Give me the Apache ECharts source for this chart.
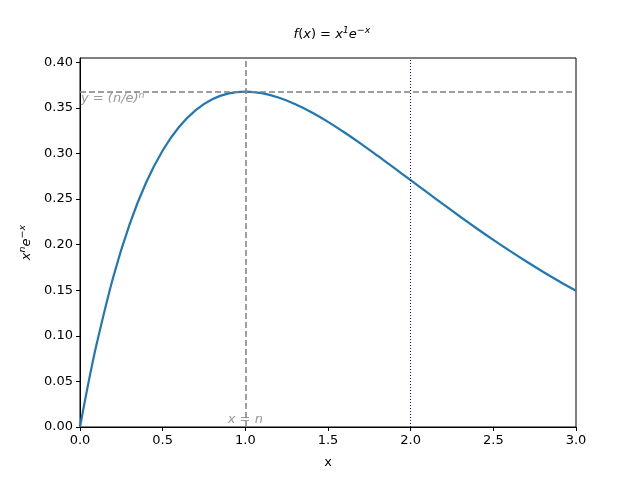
<!DOCTYPE html>
<html><head><meta charset="utf-8">
<script src="https://cdn.jsdelivr.net/npm/echarts@6/dist/echarts.min.js"></script>
<style>html,body{margin:0;padding:0;background:#fff}#c{width:640px;height:480px}</style>
</head><body><div id="c"></div>
<script>
const xs = [0,0.05,0.1,0.2,0.3,0.4,0.5,0.6,0.7,0.8,0.9,1.0,1.1,1.2,1.3,1.4,1.5,1.6,1.7,1.8,1.9,2.0,2.1,2.2,2.3,2.4,2.5,2.6,2.7,2.8,2.9,3.0];
const ys = [0,0.0476,0.0905,0.1637,0.2222,0.2681,0.3033,0.3293,0.3476,0.3595,0.3659,0.3679,0.3662,0.3614,0.3543,0.3452,0.3347,0.3230,0.3106,0.2975,0.2842,0.2707,0.2572,0.2438,0.2306,0.2177,0.2052,0.1931,0.1815,0.1703,0.1596,0.1494];
const peakX = 1.0;
const peakY = 0.3679;
const markX = 2.0;
const titleText = '{m|f}{u|(}{m|x}{u|) = }{m|x}{s|1}{m|e}{s|−x}';
const yName = '{m|x}{s|n}{m|e}{s|−x}';
const xName = 'x';
const hLabel = '{m|y = (n/e)}{s|n}';
const vLabel = 'x = n';

const chart = echarts.init(document.getElementById('c'));
const font = 'DejaVu Sans';
function rich(color, fs){
  fs = fs || 13;
  return {
    m:{fontFamily:font,fontStyle:'italic',fontSize:fs,lineHeight:15,verticalAlign:'bottom',color:color},
    u:{fontFamily:font,fontStyle:'normal',fontSize:fs,lineHeight:15,verticalAlign:'bottom',color:color},
    s:{fontFamily:font,fontStyle:'italic',fontSize:9.5,lineHeight:15,verticalAlign:'top',color:color}
  };
}
chart.setOption({
  animation:false,
  backgroundColor:'#fff',
  title:{text:titleText,left:327,top:21,textAlign:'center',textStyle:{fontFamily:font,fontStyle:'italic',fontWeight:'normal',fontSize:13,color:'#000',rich:rich('#000')}},
  grid:{left:80,right:64,top:58,bottom:53,show:true,borderColor:'#000',borderWidth:1,backgroundColor:'transparent'},
  xAxis:{type:'value',min:0,max:3,interval:0.5,
    name:xName,nameLocation:'middle',nameGap:29,nameTextStyle:{fontFamily:font,fontSize:13,color:'#000'},
    axisLine:{show:true,lineStyle:{color:'#000',width:1}},
    axisTick:{show:true,inside:false,length:4,lineStyle:{color:'#000'}},
    axisLabel:{fontFamily:font,fontSize:13,color:'#000',margin:7,formatter:v=>v.toFixed(1)},
    splitLine:{show:false}},
  yAxis:{type:'value',min:0,max:peakY*1.1,interval:0.05,
    name:yName,nameLocation:'middle',nameGap:47,nameRotate:90,nameTextStyle:{fontFamily:font,fontSize:13,color:'#000',rich:rich('#000')},
    axisLine:{show:true,lineStyle:{color:'#000',width:1}},
    axisTick:{show:true,inside:false,length:4,lineStyle:{color:'#000'}},
    axisLabel:{fontFamily:font,fontSize:13,color:'#000',margin:7,showMaxLabel:false,formatter:v=>v.toFixed(2)},
    splitLine:{show:false}},
  series:[
    {type:'line',data:xs.map((x,i)=>[x,ys[i]]),smooth:0.3,showSymbol:false,symbol:'none',
     lineStyle:{color:'#1f77b4',width:2.2},z:3,
     markLine:{silent:true,symbol:'none',label:{show:false},animation:false,
       data:[
         [{coord:[0,peakY],lineStyle:{color:'#808080',width:1.5,type:[6,3]}},{coord:[3,peakY]}],
         [{coord:[peakX,0],lineStyle:{color:'#808080',width:1.5,type:[6,3]}},{coord:[peakX,peakY*1.1]}],
         [{coord:[markX,0],lineStyle:{color:'#0000ff',width:1,type:[1,2]}},{coord:[markX,peakY*1.1]}]
       ]}},
    {type:'scatter',symbolSize:0,silent:true,z:4,
     data:[
       {value:[0,peakY],label:{show:true,formatter:hLabel,position:'insideTopLeft',offset:[-4,-6],align:'left',verticalAlign:'top',rich:rich('#808080')}},
       {value:[peakX,0],label:{show:true,formatter:vLabel,position:'top',distance:1}}
     ],
     label:{fontFamily:font,fontStyle:'italic',fontSize:13,color:'#808080'}}
  ]
});
</script></body></html>
